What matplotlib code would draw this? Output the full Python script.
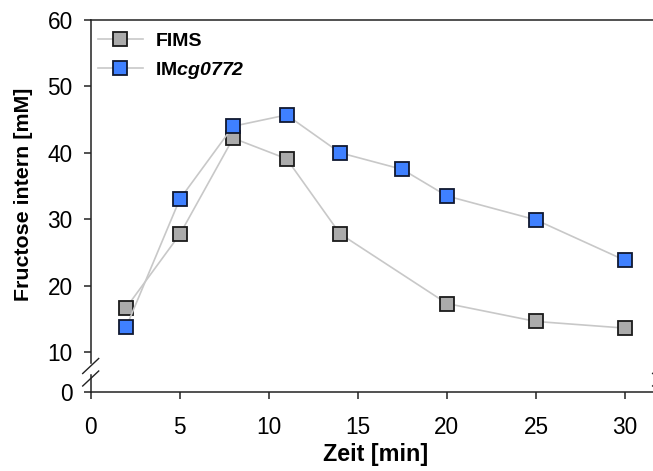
import matplotlib
matplotlib.use("Agg")
import matplotlib.pyplot as plt
from matplotlib.lines import Line2D

plt.rcParams['font.family'] = ['Liberation Sans', 'DejaVu Sans']
plt.rcParams['mathtext.fontset'] = 'custom'
plt.rcParams['mathtext.rm'] = 'Liberation Sans'
plt.rcParams['mathtext.bf'] = 'Liberation Sans:bold'
try:
    plt.rcParams['mathtext.bfit'] = 'Liberation Sans:italic:bold'
except KeyError:
    pass

# Data
time_fims = [2, 5, 8, 11, 14, 20, 25, 30]
fims = [16.7, 27.7, 42.2, 39.1, 27.8, 17.3, 14.6, 13.6]
time_im = [2, 5, 8, 11, 14, 17.5, 20, 25, 30]
im = [13.8, 33.0, 44.0, 45.7, 40.0, 37.5, 33.5, 29.9, 23.8]
xticks = [0, 5, 10, 15, 20, 25, 30]
yticks_upper = [10, 20, 30, 40, 50, 60]
labels = ["FIMS", r"IM$\mathbfit{cg0772}$"]

W, H = 653, 471
fig = plt.figure(figsize=(W / 100, H / 100), dpi=100)

def fx(px):
    return px / W

def fy(py):
    return 1 - py / H

x0 = 90.7
xscale = 17.81
xmax = 32
x1 = x0 + xmax * xscale
yscale = 6.64  # px per unit
y60 = 20
y10 = y60 + 50 * yscale
up_bottom_px = 363
lo_top_px = 375
lo_bottom_px = 392

ax_up = fig.add_axes([fx(x0), fy(up_bottom_px), fx(x1 - x0), (up_bottom_px - y60) / H])
ax_lo = fig.add_axes([fx(x0), fy(lo_bottom_px), fx(x1 - x0), (lo_bottom_px - lo_top_px) / H])

ax_up.set_xlim(0, xmax)
ax_lo.set_xlim(0, xmax)
ax_up.set_ylim(10 - (up_bottom_px - y10) / yscale, 60)
ax_lo.set_ylim(0, (lo_bottom_px - lo_top_px) / yscale)

spine_col = '#222222'
for ax in (ax_up, ax_lo):
    ax.spines['right'].set_visible(False)
    for s in ax.spines.values():
        s.set_linewidth(1.1)
        s.set_color(spine_col)
    ax.tick_params(direction='out', length=5, width=1.1, color=spine_col,
                   labelsize=16.3, pad=8)
    ax.patch.set_alpha(0)

ax_up.spines['bottom'].set_visible(False)
ax_up.tick_params(axis='x', bottom=False, labelbottom=False)
ax_up.set_yticks(yticks_upper)
ax_lo.spines['top'].set_visible(False)
ax_lo.set_yticks([0])
ax_lo.set_xticks(xticks)
ax_lo.tick_params(axis='x', pad=12)

line_col = '#c8c8c8'
ms = 10
ax_up.plot(time_fims, fims, color=line_col, lw=1.2, marker='s', ms=ms,
           mfc='#ababab', mec='#1a1a1a', mew=1.3, zorder=3, clip_on=False)
ax_up.plot(time_im, im, color=line_col, lw=1.2, marker='s', ms=ms,
           mfc='#3f80ff', mec='#101830', mew=1.3, zorder=4, clip_on=False)

# Break marks
for xc in (x0, x1):
    for yc in (366, 378.5):
        fig.add_artist(Line2D([fx(xc - 8), fx(xc + 8)], [fy(yc + 7.5), fy(yc - 7.5)],
                              color=spine_col, lw=1.0))

# Legend
handles = [
    Line2D([], [], color=line_col, lw=1.2, marker='s', ms=ms, mfc='#ababab', mec='#1a1a1a', mew=1.3),
    Line2D([], [], color=line_col, lw=1.2, marker='s', ms=ms, mfc='#3f80ff', mec='#101830', mew=1.3),
]
fig.legend(handles, labels, loc='upper left', bbox_to_anchor=(fx(98), fy(32)),
           frameon=False, prop={'weight': 'bold', 'size': 14},
           handlelength=2.3, handletextpad=0.65, labelspacing=0.52,
           borderpad=0, borderaxespad=0)

fig.text(fx(23.5), fy(194), 'Fructose intern [mM]', rotation=90, ha='center', va='center',
         fontsize=15.4, fontweight='bold')
fig.text(fx(376), fy(455), 'Zeit [min]', ha='center', va='center',
         fontsize=16.8, fontweight='bold')

fig.savefig('out.png', dpi=100)
